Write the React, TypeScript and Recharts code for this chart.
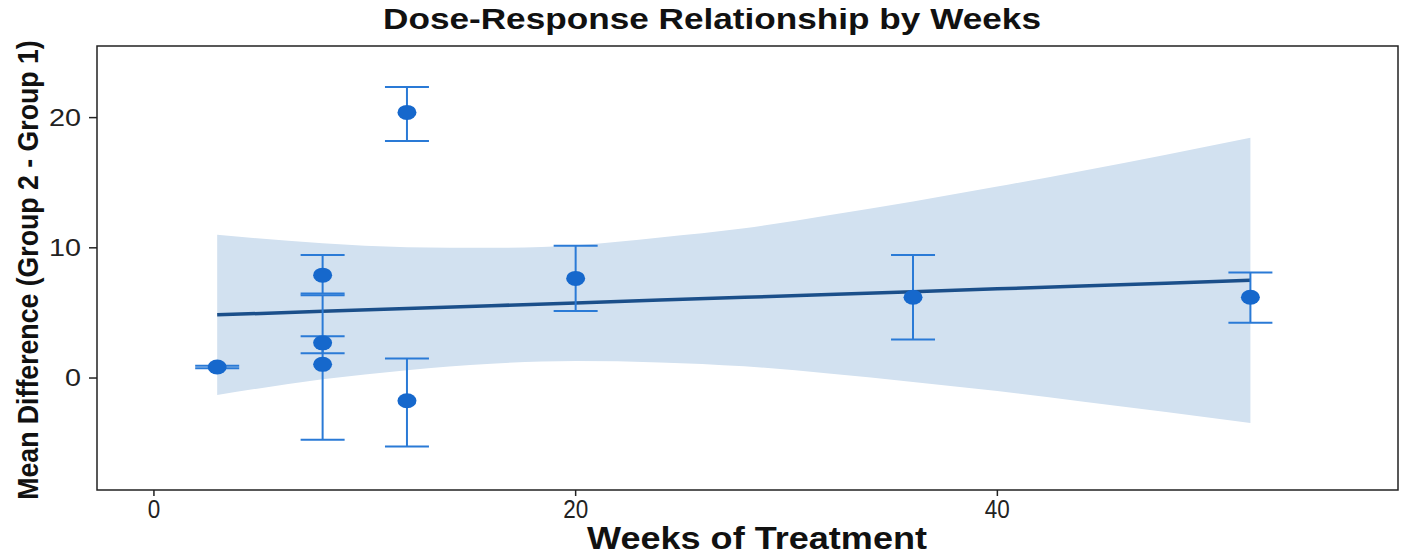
import React from 'react';
import {
  ComposedChart,
  Area,
  Line,
  Scatter,
  ErrorBar,
  XAxis,
  YAxis,
  ReferenceArea,
} from 'recharts';

// study points (weeks of treatment vs. mean difference with CI)
const weeks = [3, 8, 8, 8, 12, 12, 20, 36, 52];
const meanDiff = [0.85, 7.9, 2.7, 1.05, 20.4, -1.75, 7.65, 6.2, 6.2];
const ciLow = [0.75, 6.5, 1.9, -4.75, 18.2, -5.25, 5.15, 2.95, 4.25];
const ciHigh = [0.95, 9.45, 3.2, 6.35, 22.35, 1.5, 10.15, 9.45, 8.1];

// fitted regression line and its confidence band
const bandWeeks = [3, 8, 12, 16, 20, 24, 28, 32, 36, 40, 44, 48, 52];
const fitLine = [4.85, 5.12, 5.34, 5.55, 5.77, 5.99, 6.2, 6.42, 6.63, 6.85, 7.07, 7.28, 7.5];
const bandLow = [-1.3, -0.1, 0.6, 1.1, 1.3, 1.2, 0.9, 0.35, -0.3, -1.0, -1.8, -2.6, -3.45];
const bandHigh = [11.0, 10.35, 10.05, 10.0, 10.2, 10.8, 11.5, 12.5, 13.55, 14.7, 15.9, 17.15, 18.45];

const xTicks = [0, 20, 40];
const yTicks = [0, 10, 20];
const xDomain = [-2.7, 59];
const yDomain = [-8.6, 25.5];

const W = 1401;
const H = 541;

const font = "'Liberation Sans', Arial, sans-serif";

const bandData = bandWeeks.map((w, i) => ({
  week: w,
  fit: fitLine[i],
  band: [bandLow[i], bandHigh[i]],
}));

const pointData = weeks.map((w, i) => ({
  week: w,
  diff: meanDiff[i],
  err: [meanDiff[i] - ciLow[i], ciHigh[i] - meanDiff[i]],
}));

const Dot = (props: any) => {
  const { cx, cy } = props;
  if (cx == null || cy == null) return null;
  return <ellipse cx={cx} cy={cy} rx={9.5} ry={7.5} fill="#1668cc" />;
};

// narrow-looking x tick labels
const XTick = (props: any) => {
  const { x, y, payload } = props;
  const label = String(payload.value);
  return (
    <text
      x={x}
      y={y + 20}
      textAnchor="middle"
      fontFamily={font}
      fontSize={26}
      fill="#222"
      textLength={label.length * 12.5}
      lengthAdjust="spacingAndGlyphs"
    >
      {label}
    </text>
  );
};

// slightly wide y tick labels
const YTick = (props: any) => {
  const { x, y, payload } = props;
  const label = String(payload.value);
  return (
    <text
      x={x}
      y={y + 8}
      textAnchor="end"
      fontFamily={font}
      fontSize={24}
      fill="#222"
      textLength={label.length * 16}
      lengthAdjust="spacingAndGlyphs"
    >
      {label}
    </text>
  );
};

export default function App() {
  return (
    <div style={{ position: 'relative', width: W, height: H }}>
      <ComposedChart
        width={W}
        height={H}
        data={bandData}
        margin={{ top: 38, right: 11, bottom: 0, left: 0 }}
      >
        <XAxis
          dataKey="week"
          type="number"
          domain={xDomain}
          ticks={xTicks}
          allowDataOverflow
          height={59}
          axisLine={false}
          tickLine={{ stroke: '#222', strokeWidth: 1.5 }}
          tickSize={6}
          tick={<XTick />}
        />
        <YAxis
          type="number"
          domain={yDomain}
          ticks={yTicks}
          allowDataOverflow
          width={89}
          axisLine={false}
          tickLine={{ stroke: '#222', strokeWidth: 1.5 }}
          tickSize={8}
          tickMargin={8}
          tick={<YTick />}
        />
        <Area
          type="monotone"
          dataKey="band"
          stroke="none"
          fill="#d2e1f0"
          fillOpacity={1}
          isAnimationActive={false}
        />
        <Line
          type="linear"
          dataKey="fit"
          stroke="#1b4f8a"
          strokeWidth={3.5}
          dot={false}
          isAnimationActive={false}
        />
        <Scatter data={pointData} dataKey="diff" shape={Dot} isAnimationActive={false}>
          <ErrorBar
            dataKey="err"
            direction="y"
            width={22}
            stroke="#2a7ad6"
            strokeWidth={2}
          />
        </Scatter>
        <ReferenceArea
          x1={xDomain[0]}
          x2={xDomain[1]}
          y1={yDomain[0]}
          y2={yDomain[1]}
          fill="none"
          stroke="#222"
          strokeWidth={1.5}
          ifOverflow="visible"
        />
      </ComposedChart>
      <svg
        width={W}
        height={549}
        style={{ position: 'absolute', left: 0, top: 0, pointerEvents: 'none', overflow: 'visible' }}
      >
        <text
          x={704}
          y={21}
          textAnchor="middle"
          fontFamily={font}
          fontWeight="bold"
          fontSize={30}
          fill="#111"
          textLength={658}
          lengthAdjust="spacingAndGlyphs"
        >
          Dose-Response Relationship by Weeks
        </text>
        <text
          x={749}
          y={541}
          textAnchor="middle"
          fontFamily={font}
          fontWeight="bold"
          fontSize={31}
          fill="#111"
          textLength={340}
          lengthAdjust="spacingAndGlyphs"
        >
          Weeks of Treatment
        </text>
        <text
          transform="translate(30,262) rotate(-90) scale(0.89,1)"
          textAnchor="middle"
          fontFamily={font}
          fontWeight="bold"
          fontSize={30}
          fill="#111"
        >
          Mean Difference (Group 2 - Group 1)
        </text>
      </svg>
    </div>
  );
}
